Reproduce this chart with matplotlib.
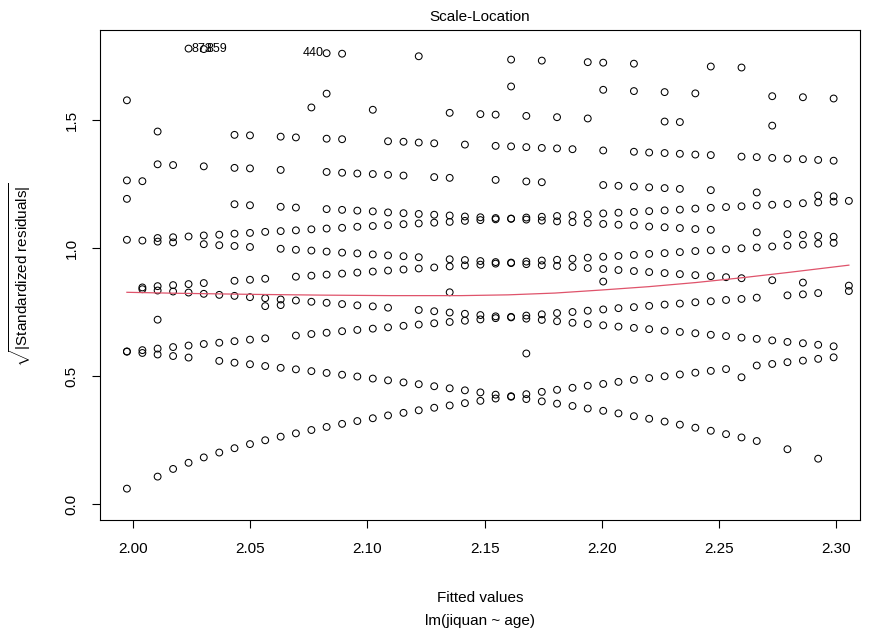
import matplotlib
matplotlib.use("Agg")
import matplotlib.pyplot as plt

# fitted values, one per age group (x positions of the point columns)
fitted = [1.9974, 2.0040, 2.0105, 2.0171, 2.0237, 2.0302, 2.0368, 2.0433, 2.0499, 2.0564,
          2.0630, 2.0695, 2.0761, 2.0826, 2.0892, 2.0957, 2.1023, 2.1088, 2.1154, 2.1219,
          2.1285, 2.1351, 2.1416, 2.1482, 2.1547, 2.1613, 2.1678, 2.1744, 2.1809, 2.1875,
          2.1940, 2.2006, 2.2071, 2.2137, 2.2202, 2.2268, 2.2333, 2.2399, 2.2465, 2.2530,
          2.2596, 2.2661, 2.2727, 2.2792, 2.2858, 2.2923, 2.2989, 2.3054]

# sqrt|standardized residual| per observed response level: column index + value
idx_100 = [0] + list(range(2, 48))
sr_100 = [1.032, 1.039, 1.042, 1.045, 1.049, 1.052, 1.056, 1.059, 1.063, 1.066,
          1.069, 1.073, 1.076, 1.079, 1.083, 1.086, 1.089, 1.093, 1.096, 1.099,
          1.102, 1.106, 1.109, 1.112, 1.115, 1.119, 1.122, 1.125, 1.128, 1.131,
          1.135, 1.138, 1.141, 1.144, 1.147, 1.150, 1.154, 1.157, 1.160, 1.163,
          1.166, 1.169, 1.172, 1.175, 1.178, 1.181, 1.184]

idx_133 = [1, 2, 3, 4, 5, 7, 8, 9] + list(range(11, 47))
sr_133 = [0.846, 0.851, 0.855, 0.859, 0.863, 0.872, 0.876, 0.880,
          0.888, 0.892, 0.896, 0.900, 0.904, 0.908, 0.912, 0.916, 0.920, 0.924,
          0.928, 0.932, 0.935, 0.939, 0.943, 0.947, 0.951, 0.954, 0.958, 0.962,
          0.966, 0.969, 0.973, 0.977, 0.980, 0.984, 0.988, 0.991, 0.995, 0.999,
          1.002, 1.006, 1.009, 1.013, 1.017, 1.020]

idx_150 = [9, 10, 21, 31]
sr_150 = [0.773, 0.777, 0.827, 0.869]

idx_167 = list(range(0, 10)) + list(range(11, 42)) + [43, 44, 45, 47]
sr_167 = [0.595, 0.601, 0.607, 0.613, 0.619, 0.625, 0.630, 0.636, 0.642, 0.647,
          0.658, 0.664, 0.669, 0.675, 0.680, 0.685, 0.690, 0.696, 0.701, 0.706,
          0.711, 0.716, 0.721, 0.726, 0.731, 0.736, 0.741, 0.746, 0.750, 0.755,
          0.760, 0.765, 0.769, 0.774, 0.779, 0.783, 0.788, 0.792, 0.797, 0.801,
          0.806, 0.815, 0.819, 0.824, 0.832]

idx_200 = [0] + list(range(2, 40)) + list(range(41, 47))
sr_200 = [0.060, 0.107, 0.137, 0.161, 0.182, 0.201, 0.218, 0.234, 0.249, 0.263,
          0.276, 0.289, 0.301, 0.313, 0.324, 0.335, 0.346, 0.356, 0.366, 0.376,
          0.385, 0.394, 0.403, 0.412, 0.421, 0.429, 0.438, 0.446, 0.454, 0.462,
          0.469, 0.477, 0.485, 0.492, 0.499, 0.506, 0.513, 0.520, 0.527,
          0.541, 0.547, 0.554, 0.560, 0.567, 0.573]

idx_233 = [0, 1, 2, 3, 4] + list(range(6, 42)) + [43, 45]
sr_233 = [0.596, 0.590, 0.584, 0.578, 0.572, 0.559, 0.552, 0.546, 0.539, 0.532,
          0.526, 0.519, 0.512, 0.505, 0.498, 0.490, 0.483, 0.475, 0.468, 0.460,
          0.452, 0.444, 0.436, 0.427, 0.419, 0.410, 0.401, 0.392, 0.383, 0.373,
          0.364, 0.354, 0.343, 0.333, 0.322, 0.310, 0.298, 0.286, 0.273, 0.260,
          0.246, 0.214, 0.177]

idx_250 = [2, 26, 40]
sr_250 = [0.720, 0.588, 0.495]

idx_267 = list(range(1, 18)) + list(range(19, 47))
sr_267 = [0.839, 0.834, 0.830, 0.826, 0.821, 0.817, 0.813, 0.808, 0.804, 0.799,
          0.795, 0.790, 0.786, 0.781, 0.776, 0.772, 0.767, 0.758, 0.753, 0.748,
          0.743, 0.738, 0.733, 0.729, 0.724, 0.719, 0.714, 0.708, 0.703, 0.698,
          0.693, 0.688, 0.683, 0.677, 0.672, 0.667, 0.661, 0.656, 0.650, 0.645,
          0.639, 0.633, 0.628, 0.622, 0.616]

idx_300 = [1, 2, 3, 5, 6, 7, 8, 10] + list(range(11, 20)) + list(range(21, 41)) + [42, 44, 47]
sr_300 = [1.029, 1.025, 1.022, 1.015, 1.011, 1.008, 1.004, 0.997,
          0.993, 0.990, 0.986, 0.982, 0.979, 0.975, 0.971, 0.968, 0.964,
          0.956, 0.953, 0.949, 0.945, 0.941, 0.937, 0.933, 0.930, 0.926, 0.922,
          0.918, 0.914, 0.910, 0.906, 0.902, 0.898, 0.894, 0.890, 0.886, 0.882,
          0.874, 0.865, 0.853]

idx_333 = [0, 7, 8, 10, 11] + list(range(13, 39)) + [41, 43, 44, 45, 46]
sr_333 = [1.192, 1.171, 1.167, 1.161, 1.158, 1.152, 1.149, 1.146, 1.143, 1.139,
          1.136, 1.133, 1.130, 1.127, 1.123, 1.120, 1.117, 1.114, 1.111, 1.107,
          1.104, 1.101, 1.098, 1.094, 1.091, 1.088, 1.084, 1.081, 1.078, 1.074,
          1.071, 1.061, 1.054, 1.051, 1.047, 1.044]

idx_350 = [0, 1]
sr_350 = [1.264, 1.261]

idx_367 = [2, 3, 5, 7, 8, 10, 13, 14, 15, 16, 17, 18, 20, 21, 24, 26, 27,
           31, 32, 33, 34, 35, 36, 38, 41, 45, 46]
sr_367 = [1.327, 1.324, 1.319, 1.313, 1.311, 1.305, 1.297, 1.294, 1.291, 1.289,
          1.286, 1.283, 1.277, 1.274, 1.266, 1.260, 1.257, 1.246, 1.243, 1.240,
          1.237, 1.234, 1.231, 1.226, 1.217, 1.205, 1.202]

idx_400 = [2, 7, 8, 10, 11, 13, 14, 17, 18, 19, 20, 22, 24, 25, 26, 27, 28, 29, 31,
           33, 34, 35, 36, 37, 38, 40, 41, 42, 43, 44, 45, 46]
sr_400 = [1.455, 1.442, 1.440, 1.435, 1.432, 1.427, 1.425, 1.417, 1.415, 1.412,
          1.409, 1.404, 1.399, 1.397, 1.394, 1.391, 1.389, 1.386, 1.381, 1.376,
          1.373, 1.371, 1.368, 1.365, 1.363, 1.357, 1.355, 1.352, 1.349, 1.347,
          1.344, 1.341]

idx_433 = [0, 12, 16, 21, 23, 24, 26, 28, 30, 35, 36, 42]
sr_433 = [1.577, 1.549, 1.540, 1.528, 1.523, 1.521, 1.516, 1.511, 1.506, 1.494,
          1.492, 1.478]

idx_450 = [13]
sr_450 = [1.603]

idx_467 = [25, 31, 33, 35, 37, 42, 44, 46]
sr_467 = [1.631, 1.618, 1.613, 1.609, 1.604, 1.593, 1.589, 1.584]

idx_500 = [4, 5, 13, 14, 19, 25, 27, 30, 31, 33, 38, 40]
sr_500 = [1.779, 1.777, 1.761, 1.759, 1.749, 1.736, 1.732, 1.726, 1.724,
          1.720, 1.709, 1.705]

# the three largest residuals carry their row numbers (R puts them right/left of the point)
id_labels = ["873", "859", "440"]
id_cols = [4, 5, 13]
id_vals = [1.779, 1.777, 1.761]
id_side = ["right", "right", "left"]

# smoother (red line)
smooth_x = [1.9974, 2.02, 2.05, 2.08, 2.11, 2.14, 2.16, 2.18, 2.20, 2.22, 2.24, 2.26, 2.28, 2.3054]
smooth_y = [0.827, 0.823, 0.819, 0.816, 0.814, 0.814, 0.817, 0.824, 0.836, 0.849, 0.865, 0.884, 0.905, 0.933]

groups = [
    (idx_100, sr_100), (idx_133, sr_133), (idx_150, sr_150), (idx_167, sr_167),
    (idx_200, sr_200), (idx_233, sr_233), (idx_250, sr_250), (idx_267, sr_267),
    (idx_300, sr_300), (idx_333, sr_333), (idx_350, sr_350), (idx_367, sr_367),
    (idx_400, sr_400), (idx_433, sr_433), (idx_450, sr_450), (idx_467, sr_467),
    (idx_500, sr_500),
]

plt.rcParams["font.family"] = ["Liberation Sans", "DejaVu Sans"]
plt.rcParams["mathtext.fontset"] = "custom"
plt.rcParams["mathtext.rm"] = "Liberation Sans"
plt.rcParams["mathtext.it"] = "Liberation Sans:italic"

W, H = 870, 637
fig = plt.figure(figsize=(W / 100, H / 100), dpi=100)
ax = fig.add_axes([100 / W, 1 - 520 / H, 760 / W, 490 / H])

for idx, vals in groups:
    xs = [fitted[i] for i in idx]
    ax.scatter(xs, vals, s=24, facecolors="none", edgecolors="black", linewidths=0.75, zorder=2)

ax.plot(smooth_x, smooth_y, color="#DF536B", linewidth=0.9, zorder=3)

for lab, c, v, side in zip(id_labels, id_cols, id_vals, id_side):
    dx = 2.0 if side == "right" else -2.0
    ax.annotate(lab, (fitted[c], v), xytext=(dx, 0), textcoords="offset points",
                ha="left" if side == "right" else "right", va="center", fontsize=9)

ax.set_xlim(1.98592, 2.31015)
ax.set_ylim(-0.0625, 1.8516)
ax.set_xticks([2.00, 2.05, 2.10, 2.15, 2.20, 2.25, 2.30])
ax.set_xticklabels(["2.00", "2.05", "2.10", "2.15", "2.20", "2.25", "2.30"])
ax.set_yticks([0.0, 0.5, 1.0, 1.5])
ax.set_yticklabels(["0.0", "0.5", "1.0", "1.5"], rotation=90, va="center")
ax.tick_params(direction="out", length=5.5, width=0.8, labelsize=11, pad=10, colors="black")
for s in ax.spines.values():
    s.set_linewidth(0.8)

fig.text(480 / W, 1 - 17 / H, "Scale-Location", ha="center", va="center", fontsize=11)
fig.text(480 / W, 1 - 598 / H, "Fitted values", ha="center", va="center", fontsize=11)
fig.text(480 / W, 1 - 621 / H, "lm(jiquan ~ age)", ha="center", va="center", fontsize=11)
fig.text(20 / W, 1 - 275 / H, r"$\sqrt{|\mathrm{Standardized\ residuals}|}$",
         ha="center", va="center", rotation=90, fontsize=11)

fig.savefig("out.png", dpi=100)
